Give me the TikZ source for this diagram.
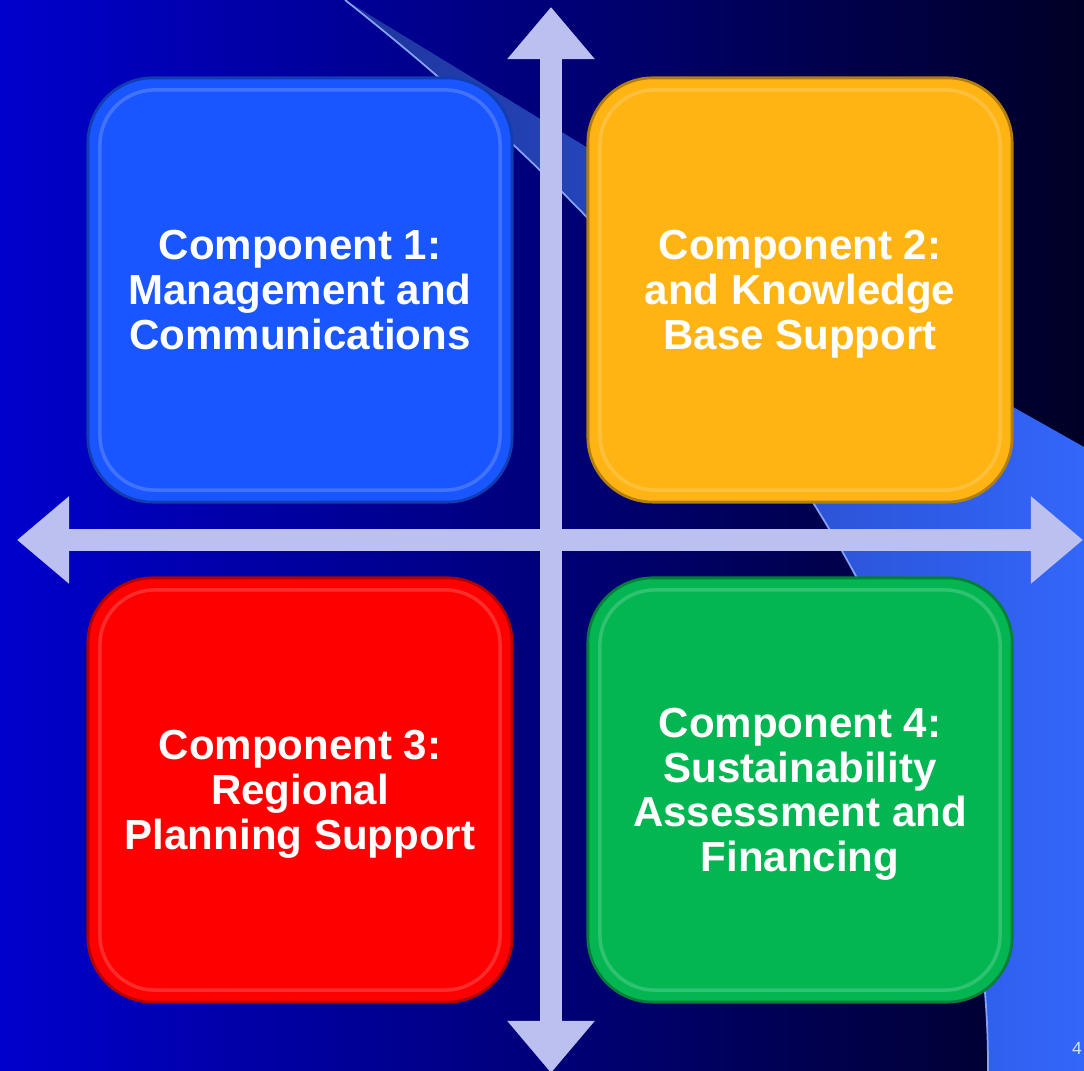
\documentclass[tikz,border=0pt]{standalone}
\usepackage{fontspec}
\setmainfont{Liberation Sans}
\usetikzlibrary{arrows.meta}

\definecolor{bgleft}{RGB}{0,0,205}
\definecolor{bgmid}{RGB}{0,0,128}
\definecolor{bgright}{RGB}{0,0,38}
\definecolor{swoosh}{RGB}{51,102,250}
\definecolor{swooshdark}{RGB}{30,52,155}
\definecolor{axiscol}{RGB}{188,192,240}
\definecolor{cblue}{RGB}{26,86,255}
\definecolor{corange}{RGB}{255,180,20}
\definecolor{cred}{RGB}{255,0,0}
\definecolor{cgreen}{RGB}{4,182,82}

\begin{document}
\begin{tikzpicture}[x=0.01cm,y=-0.01cm,
	comp/.style={rounded corners=0.65cm, minimum width=4.24cm, minimum height=4.24cm, inner sep=0pt,
		fill=#1, draw=#1!70!black, line width=0.8pt,
		path picture={\draw[#1!50!white, line width=1pt, opacity=0.35, rounded corners=0.55cm]
			([xshift=0.12cm,yshift=-0.12cm]path picture bounding box.north west) rectangle
			([xshift=-0.12cm,yshift=0.12cm]path picture bounding box.south east);}},
	axis/.style={draw=axiscol, line width=0.22cm,
		{Triangle[width=0.84cm,length=0.52cm]}-{Triangle[width=0.84cm,length=0.52cm]}}]
	\tikzstyle{every node}=[text=white, align=center, text depth=0pt, font=\bfseries\fontsize{11.95}{12.7}\selectfont]
	\useasboundingbox (0,0) rectangle (1084,1071);
	\shade[left color=bgleft, middle color=bgmid, right color=bgright] (0,0) rectangle (1084,1071);
	\shade[left color=swooshdark, middle color=swoosh, right color=swoosh]
		(345,0) .. controls (700,280) and (990,650) .. (988,1071) -- (1084,1071) -- (1084,447) -- (1013,407) -- cycle;
	\draw[swoosh!60!white, line width=0.5pt] (345,0) .. controls (700,280) and (990,650) .. (988,1071);
	\coordinate (up) at (551,7);
	\coordinate (down) at (551,1073);
	\coordinate (left) at (17,540);
	\coordinate (right) at (1083,540);
	\draw[axis] (left) -- (right);
	\draw[axis] (down) -- (up);
	\node[comp=cblue] (c1) at (300,290) {Component 1:\\Management and\\Communications};
	\node[comp=corange] (c2) at (800,290) {Component 2:\\and Knowledge\\Base Support};
	\node[comp=cred] (c3) at (300,790) {Component 3:\\Regional\\Planning Support};
	\node[comp=cgreen] (c4) at (800,790) {Component 4:\\Sustainability\\Assessment and\\Financing};
	\node[font=\fontsize{5}{6}\selectfont, text=white!80!swoosh] (pg) at (1077,1048) {4};
\end{tikzpicture}
\end{document}
